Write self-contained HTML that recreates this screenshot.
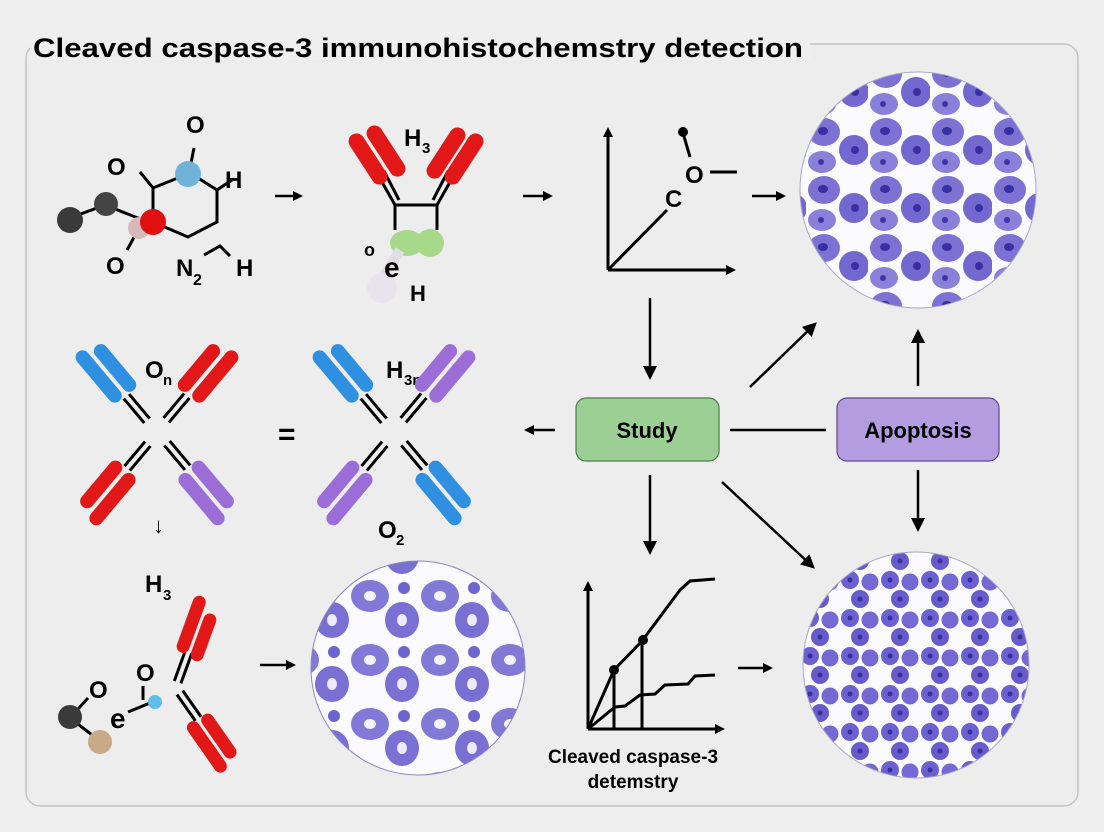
<!DOCTYPE html>
<html><head><meta charset="utf-8"><style>
html,body{margin:0;padding:0;background:#efefef;}
svg{display:block;font-family:"Liberation Sans",sans-serif;}
</style></head><body>
<svg width="1104" height="832" viewBox="0 0 1104 832" xmlns="http://www.w3.org/2000/svg">
<defs>
<marker id="ah" markerWidth="10" markerHeight="10" refX="7" refY="5" orient="auto" markerUnits="userSpaceOnUse">
<path d="M0,0 L10,5 L0,10 Z" fill="#000"/></marker>
<marker id="ah2" markerWidth="14" markerHeight="14" refX="10" refY="7" orient="auto" markerUnits="userSpaceOnUse">
<path d="M0,0 L14,7 L0,14 Z" fill="#000"/></marker>
<pattern id="cellsA" width="62" height="58" patternUnits="userSpaceOnUse">
<rect width="62" height="58" fill="#fafaff"/>
<ellipse cx="18" cy="16" rx="16" ry="14" fill="#7d72d4"/><ellipse cx="17" cy="15" rx="5" ry="4" fill="#3a2ea3"/>
<ellipse cx="48" cy="34" rx="15" ry="15" fill="#7268d0"/><ellipse cx="49" cy="34" rx="4" ry="4" fill="#3a2ea3"/>
<ellipse cx="16" cy="46" rx="14" ry="11" fill="#8a80da"/><ellipse cx="15" cy="46" rx="3" ry="3" fill="#3f33a8"/>
</pattern>
<pattern id="cellsB" width="40" height="38" patternUnits="userSpaceOnUse">
<rect width="40" height="38" fill="#fafaff"/>
<circle cx="10" cy="10" r="9" fill="#6b60cf"/><circle cx="30" cy="12" r="8.5" fill="#7469d3"/>
<circle cx="20" cy="29" r="9" fill="#675bcb"/><circle cx="10" cy="10" r="2.5" fill="#3a2ea3"/><circle cx="20" cy="29" r="2.5" fill="#3a2ea3"/>
</pattern>
<pattern id="cellsC" width="70" height="64" patternUnits="userSpaceOnUse">
<rect width="70" height="64" fill="#fafaff"/>
<ellipse cx="20" cy="20" rx="19" ry="16" fill="#8278d6"/><ellipse cx="20" cy="20" rx="6" ry="5" fill="#f4f2ff"/>
<ellipse cx="52" cy="44" rx="17" ry="18" fill="#7a6fd3"/><ellipse cx="52" cy="44" rx="5" ry="6" fill="#ecebff"/>
<circle cx="54" cy="12" r="6" fill="#6e64cf"/>
</pattern>
<g id="cap">
<line x1="-4" y1="0" x2="-4" y2="-32" stroke="#000" stroke-width="3"/>
<line x1="3" y1="0" x2="3" y2="-32" stroke="#000" stroke-width="3"/>
</g>
</defs>

<rect width="1104" height="832" fill="#efefef"/>
<rect x="26" y="44" width="1052" height="762" rx="14" fill="#ededed" stroke="#c4c4c4" stroke-width="1.5"/>
<rect x="30" y="30" width="780" height="30" fill="#efefef"/>
<text x="33" y="57" font-size="27" font-weight="bold" textLength="770" lengthAdjust="spacingAndGlyphs">Cleaved caspase-3 immunohistochemstry detection</text>

<!-- molecule top-left -->
<g stroke="#000" stroke-width="3" fill="none">
<polyline points="70,218 105,205 148,222"/>
<polyline points="140,172 153,188 190,173 217,190 217,222 188,237 153,222 153,188"/>
<line x1="189" y1="173" x2="194" y2="148"/>
<line x1="217" y1="190" x2="232" y2="180"/>
<line x1="138" y1="230" x2="127" y2="250"/>
<path d="M204,255 L220,246 L230,256"/>
</g>
<circle cx="70" cy="220" r="13" fill="#3a3a3a"/>
<circle cx="106" cy="204" r="12" fill="#444"/>
<circle cx="139" cy="228" r="11" fill="#d7b9b9"/>
<circle cx="153" cy="222" r="13" fill="#e01010"/>
<circle cx="188" cy="174" r="13" fill="#6fb3d8"/>
<g font-size="24" font-weight="bold">
<text x="186" y="133">O</text><text x="107" y="175">O</text><text x="225" y="188">H</text>
<text x="106" y="274">O</text><text x="176" y="276">N</text><text x="193" y="285" font-size="16">2</text><text x="236" y="276">H</text>
</g>

<line x1="275" y1="196" x2="300" y2="196" stroke="#000" stroke-width="2.5" marker-end="url(#ah)"/>

<!-- antibody top -->
<g font-size="24" font-weight="bold"><text x="404" y="146">H</text><text x="422" y="153" font-size="15">3</text></g>
<g stroke="#000" stroke-width="3" fill="none">
<polyline points="395,230 395,205 437,205 437,230"/>
<line x1="378" y1="175" x2="395" y2="205"/><line x1="384" y1="171" x2="399" y2="200"/>
<line x1="454" y1="175" x2="437" y2="205"/><line x1="448" y1="171" x2="433" y2="200"/>
</g>
<g fill="#e21818">
<rect x="360" y="130" width="16" height="58" rx="8" transform="rotate(-33 368 159)"/>
<rect x="378" y="122" width="16" height="58" rx="8" transform="rotate(-33 386 151)"/>
<rect x="456" y="130" width="16" height="58" rx="8" transform="rotate(33 464 159)"/>
<rect x="438" y="124" width="16" height="58" rx="8" transform="rotate(33 446 153)"/>
</g>
<ellipse cx="407" cy="243" rx="17" ry="13" fill="#a8d98a"/>
<ellipse cx="430" cy="243" rx="14" ry="14" fill="#a8d98a"/>
<line x1="400" y1="250" x2="380" y2="283" stroke="#e0dde6" stroke-width="10"/>
<circle cx="382" cy="288" r="15" fill="#e8e4ee"/>
<g font-weight="bold"><text x="364" y="256" font-size="18">o</text><text x="384" y="277" font-size="28">e</text><text x="410" y="301" font-size="22">H</text></g>

<line x1="523" y1="196" x2="550" y2="196" stroke="#000" stroke-width="2.5" marker-end="url(#ah)"/>

<!-- chart top -->
<g stroke="#000" stroke-width="3" fill="none">
<line x1="608" y1="270" x2="608" y2="130" marker-end="url(#ah)"/>
<line x1="608" y1="270" x2="733" y2="270" marker-end="url(#ah)"/>
<line x1="608" y1="270" x2="667" y2="210"/>
<line x1="683" y1="133" x2="690" y2="157"/>
<line x1="710" y1="172" x2="737" y2="172"/>
</g>
<circle cx="683" cy="132" r="5" fill="#000"/>
<g font-size="24" font-weight="bold"><text x="665" y="207">C</text><text x="685" y="183">O</text></g>

<line x1="752" y1="196" x2="783" y2="196" stroke="#000" stroke-width="2.5" marker-end="url(#ah)"/>

<circle cx="918" cy="190" r="118" fill="url(#cellsA)" stroke="#a9a6c8" stroke-width="1"/>

<!-- X antibody left -->
<g font-size="24" font-weight="bold"><text x="145" y="378">O</text><text x="163" y="385" font-size="15">n</text></g>
<g transform="translate(157,432)">
<g transform="rotate(-40)"><use href="#cap" transform="translate(0,-15)"/><rect x="-16" y="-112" width="14" height="64" rx="7" fill="#2f8fe0"/><rect x="2" y="-105" width="14" height="58" rx="7" fill="#2f8fe0"/></g>
<g transform="rotate(40)"><use href="#cap" transform="translate(0,-15)"/><rect x="-16" y="-105" width="14" height="58" rx="7" fill="#e21818"/><rect x="2" y="-112" width="14" height="64" rx="7" fill="#e21818"/></g>
<g transform="rotate(-140)"><use href="#cap" transform="translate(0,-15)"/><rect x="-16" y="-112" width="14" height="64" rx="7" fill="#e21818"/><rect x="2" y="-105" width="14" height="58" rx="7" fill="#e21818"/></g>
<g transform="rotate(140)"><use href="#cap" transform="translate(0,-15)"/><rect x="-16" y="-105" width="14" height="58" rx="7" fill="#9a6ed6"/><rect x="2" y="-112" width="14" height="64" rx="7" fill="#9a6ed6"/></g>
</g>
<text x="278" y="444" font-size="30" font-weight="bold">=</text>
<g font-size="24" font-weight="bold"><text x="386" y="378">H</text><text x="404" y="385" font-size="15">3n</text></g>
<g transform="translate(394,432)">
<g transform="rotate(-40)"><use href="#cap" transform="translate(0,-15)"/><rect x="-16" y="-112" width="14" height="64" rx="7" fill="#2f8fe0"/><rect x="2" y="-105" width="14" height="58" rx="7" fill="#2f8fe0"/></g>
<g transform="rotate(40)"><use href="#cap" transform="translate(0,-15)"/><rect x="-16" y="-105" width="14" height="58" rx="7" fill="#9a6ed6"/><rect x="2" y="-112" width="14" height="64" rx="7" fill="#9a6ed6"/></g>
<g transform="rotate(-140)"><use href="#cap" transform="translate(0,-15)"/><rect x="-16" y="-112" width="14" height="64" rx="7" fill="#9a6ed6"/><rect x="2" y="-105" width="14" height="58" rx="7" fill="#9a6ed6"/></g>
<g transform="rotate(140)"><use href="#cap" transform="translate(0,-15)"/><rect x="-16" y="-105" width="14" height="58" rx="7" fill="#2f8fe0"/><rect x="2" y="-112" width="14" height="64" rx="7" fill="#2f8fe0"/></g>
</g>

<line x1="555" y1="430" x2="527" y2="430" stroke="#000" stroke-width="2.5" marker-end="url(#ah)"/>
<text x="153" y="533" font-size="22">↓</text>
<g font-size="24" font-weight="bold"><text x="378" y="538">O</text><text x="396" y="545" font-size="15">2</text></g>

<!-- bottom left molecule -->
<g font-size="24" font-weight="bold"><text x="145" y="592">H</text><text x="163" y="600" font-size="15">3</text></g>
<g stroke="#000" stroke-width="3" fill="none">
<line x1="70" y1="718" x2="88" y2="698"/><line x1="70" y1="718" x2="96" y2="738"/>
<line x1="143" y1="686" x2="143" y2="700"/><line x1="128" y1="712" x2="150" y2="703"/>
</g>
<circle cx="70" cy="717" r="12" fill="#3a3a3a"/>
<circle cx="100" cy="742" r="12" fill="#c9aa86"/>
<circle cx="155" cy="702" r="7" fill="#5fbde8"/>
<g font-size="24" font-weight="bold"><text x="136" y="681">O</text><text x="89" y="698">O</text><text x="110" y="728" font-size="28">e</text></g>
<g transform="translate(176,688)">
<g transform="rotate(20)"><use href="#cap" transform="translate(0,-6)"/><rect x="-14" y="-95" width="13" height="60" rx="6.5" fill="#e21818"/><rect x="2" y="-82" width="13" height="50" rx="6.5" fill="#e21818"/></g>
<g transform="rotate(145)"><use href="#cap" transform="translate(0,-6)"/><rect x="-14" y="-90" width="13" height="52" rx="6.5" fill="#e21818"/><rect x="2" y="-96" width="13" height="60" rx="6.5" fill="#e21818"/></g>
</g>

<line x1="260" y1="665" x2="293" y2="665" stroke="#000" stroke-width="2.5" marker-end="url(#ah)"/>
<circle cx="418" cy="668" r="107" fill="url(#cellsC)" stroke="#8b86c0" stroke-width="1"/>

<!-- Boxes -->
<line x1="650" y1="298" x2="650" y2="376" stroke="#000" stroke-width="2.5" marker-end="url(#ah2)"/>
<rect x="576" y="398" width="143" height="63" rx="10" fill="#9ccf94" stroke="#4e7a4a" stroke-width="1.2"/>
<text x="647" y="438" font-size="22" font-weight="bold" text-anchor="middle">Study</text>
<rect x="837" y="398" width="162" height="63" rx="10" fill="#b39ce0" stroke="#5e4a8a" stroke-width="1.2"/>
<text x="918" y="438" font-size="22" font-weight="bold" text-anchor="middle">Apoptosis</text>
<line x1="730" y1="430" x2="826" y2="430" stroke="#000" stroke-width="2.5"/>
<line x1="750" y1="387" x2="814" y2="325" stroke="#000" stroke-width="2.5" marker-end="url(#ah2)"/>
<line x1="918" y1="386" x2="918" y2="333" stroke="#000" stroke-width="2.5" marker-end="url(#ah2)"/>
<line x1="918" y1="470" x2="918" y2="528" stroke="#000" stroke-width="2.5" marker-end="url(#ah2)"/>
<line x1="650" y1="475" x2="650" y2="551" stroke="#000" stroke-width="2.5" marker-end="url(#ah2)"/>
<line x1="722" y1="482" x2="812" y2="566" stroke="#000" stroke-width="2.5" marker-end="url(#ah2)"/>

<!-- bottom chart -->
<g stroke="#000" stroke-width="3" fill="none">
<line x1="588" y1="729" x2="588" y2="584" marker-end="url(#ah)"/>
<line x1="588" y1="729" x2="722" y2="729" marker-end="url(#ah)"/>
<polyline points="588,729 614,670"/>
<polyline points="614,670 642,641 680,590 690,581 715,579"/>
<polyline points="588,729 615,707 625,706 640,695 655,694 665,685 688,684 695,676 715,675"/>
<line x1="614" y1="670" x2="614" y2="729"/><line x1="642" y1="641" x2="642" y2="729"/>
</g>
<circle cx="614" cy="670" r="5" fill="#000"/><circle cx="643" cy="640" r="5" fill="#000"/>
<g font-size="19" font-weight="bold" text-anchor="middle"><text x="633" y="763">Cleaved caspase-3</text><text x="633" y="788">detemstry</text></g>

<line x1="738" y1="668" x2="770" y2="668" stroke="#000" stroke-width="2.5" marker-end="url(#ah)"/>
<circle cx="916" cy="665" r="113" fill="url(#cellsB)" stroke="#a9a6c8" stroke-width="1"/>
</svg>
</body></html>
